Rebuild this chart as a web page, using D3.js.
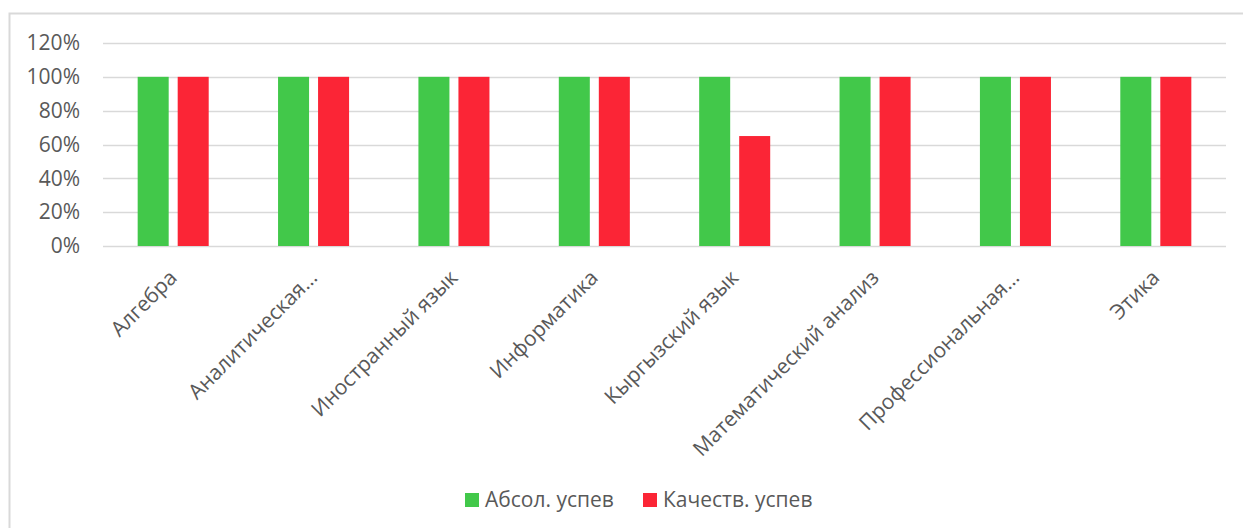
<!DOCTYPE html>
<html><head><meta charset="utf-8">
<script src="https://cdn.jsdelivr.net/npm/d3@7"></script>
<style>body{margin:0;background:#fff}svg{display:block}text{font-family:"Open Sans",sans-serif;fill:#595959}</style>
</head><body><svg id="c" width="1243" height="528"></svg>
<script>
const categories = ["Алгебра","Аналитическая…","Иностранный язык","Информатика","Кыргызский язык","Математический анализ","Профессиональная…","Этика"];
const absol = [1,1,1,1,1,1,1,1];
const kach = [1,1,1,1,0.65,1,1,1];
const seriesNames = ["Абсол. успев","Качеств. успев"];
const colors = ["#42c84a","#fb2536"];
const yTicks = [0,0.2,0.4,0.6,0.8,1.0,1.2];

const svg = d3.select("#c");
svg.append("rect").attr("x",9.5).attr("y",13.5).attr("width",1250).attr("height",530).attr("fill","#fff").attr("stroke","#d9d9d9").attr("stroke-width",2);

const L=103, R=1226, T=43, B=246;
const x = d3.scaleBand().domain(categories).range([L,R]).paddingInner(0.494).paddingOuter(0.247);
const xs = d3.scaleBand().domain([0,1]).range([0,x.bandwidth()]).paddingInner(0.225);
const y = d3.scaleLinear().domain([0,1.2]).range([B,T]);

svg.append("g").selectAll("line").data(yTicks).join("line")
  .attr("x1",L).attr("x2",R).attr("y1",d=>Math.round(y(d))+0.5).attr("y2",d=>Math.round(y(d))+0.5)
  .attr("stroke","#d9d9d9").attr("stroke-width",1.5);

const yAxis = d3.axisLeft(y).tickValues(yTicks).tickFormat(d=>Math.round(d*100)+"%").tickSize(0).tickPadding(23);
const ya = svg.append("g").attr("transform",`translate(${L},0)`).call(yAxis);
ya.select(".domain").remove();
ya.selectAll("text").style("font-size","21px").attr("fill","#595959");

const data = [absol,kach];
data.forEach((vals,si)=>{
  svg.append("g").selectAll("rect").data(vals).join("rect")
    .attr("x",(d,i)=>x(categories[i])+xs(si)).attr("width",xs.bandwidth())
    .attr("y",d=>y(d)).attr("height",d=>B-y(d)).attr("fill",colors[si]);
});

const xAxis = d3.axisBottom(x).tickSize(0).tickPadding(0);
const xa = svg.append("g").attr("transform",`translate(0,${B})`).call(xAxis);
xa.select(".domain").remove();
xa.selectAll("text").style("font-size","21px").attr("fill","#595959")
  .attr("text-anchor","end").attr("dy",0).attr("y",0)
  .attr("transform","translate(5,33) rotate(-45)");

const lg = svg.append("g");
const lx=[465,643];
seriesNames.forEach((n,i)=>{
  lg.append("rect").attr("x",lx[i]).attr("y",493).attr("width",14).attr("height",14).attr("fill",colors[i]);
  lg.append("text").attr("x",lx[i]+20).attr("y",507).style("font-size","21px").text(n);
});
</script></body></html>
